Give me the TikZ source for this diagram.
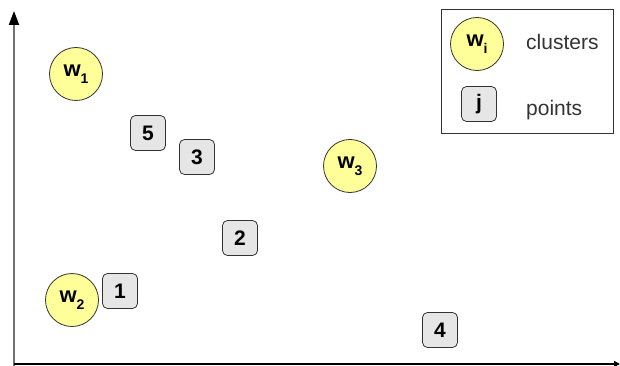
\documentclass[tikz,border=0pt]{standalone}
\usepackage{fontspec}
\setmainfont{Liberation Sans}
\usetikzlibrary{arrows.meta,positioning}
\definecolor{clusterfill}{HTML}{FFFF99}
\definecolor{pointfill}{HTML}{E6E6E6}
\newcommand{\wsub}[1]{w\raisebox{-7pt}{\fontsize{14}{14}\selectfont #1}}

\begin{document}
\begin{tikzpicture}[x=1pt,y=-1pt,
	cluster/.style={circle,draw=black!80,fill=clusterfill,line width=0.8pt,
		minimum size=53pt,inner sep=0pt,font=\bfseries\fontsize{22}{22}\selectfont},
	point/.style={rectangle,rounded corners=5pt,draw=black!80,fill=pointfill,
		line width=0.8pt,minimum size=35pt,inner sep=0pt,
		font=\bfseries\fontsize{21}{21}\selectfont},
	legendtext/.style={text=black!80,inner sep=0pt,anchor=base west,
		font=\fontsize{21}{21}\selectfont}]
				\useasboundingbox (0,0) rectangle (620,366);
				% axes
				\coordinate (origin) at (14,364);
				\coordinate (ytip) at (14,11);
				\coordinate (xtip) at (620,364);
				\draw[black!55,line width=2pt,-{Triangle[length=14pt,width=10pt,color=black]}] (14,366) -- (ytip);
				\draw[black,line width=1.4pt,-{Triangle[length=6pt,width=6pt]}] (origin) -- (xtip);
				% clusters
				\node[cluster] (w1) at (76,74) {\wsub{1}};
				\node[cluster] (w2) at (72,300) {\wsub{2}};
				\node[cluster] (w3) at (350,166) {\wsub{3}};
				% points
				\node[point] (p1) at (120,291) {1};
				\node[point] (p2) at (240,238) {2};
				\node[point] (p3) at (197,157) {3};
				\node[point] (p4) at (440,330) {4};
				\node[point] (p5) at (148,133) {5};
				% legend
				\draw[black!80,line width=0.8pt] (441,9) rectangle (613,133);
				\node[cluster] (legcluster) at (477,44) {\wsub{i}};
				\node[point] (legpoint) at (479,104) {j};
				\node[legendtext] (labclusters) at (526,50) {clusters};
				\node[legendtext] (labpoints) at (526,116) {points};
			\end{tikzpicture}
\end{document}
